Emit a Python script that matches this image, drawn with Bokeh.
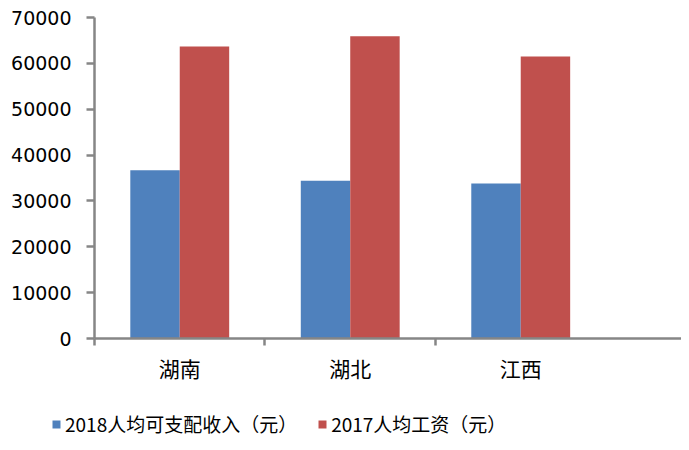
from bokeh.plotting import figure
from bokeh.models import ColumnDataSource, FixedTicker, Range1d, Legend, LegendItem
from bokeh.layouts import column
from bokeh.embed import file_html
from bokeh.resources import INLINE

categories = ["湖南", "湖北", "江西"]
income_2018 = [36700, 34400, 33800]
wage_2017 = [63700, 65900, 61500]
series_names = ["2018人均可支配收入（元）", "2017人均工资（元）"]
y_ticks = [0, 10000, 20000, 30000, 40000, 50000, 60000, 70000]

AXIS = "#868686"
BLUE = "#4F81BD"
RED = "#C0504D"
BW = 0.29

centers = [i + 0.5 for i in range(len(categories))]
src = ColumnDataSource(dict(
    xb=[c - BW / 2 for c in centers],
    xr=[c + BW / 2 for c in centers],
    inc=income_2018, wage=wage_2017))

p = figure(width=681, height=400, output_backend="svg", toolbar_location=None,
           x_range=Range1d(0, 3.443), y_range=Range1d(0, 70000),
           min_border_left=94, min_border_right=0, min_border_top=17, min_border_bottom=62)
p.outline_line_color = None
p.xgrid.visible = False
p.ygrid.visible = False

p.vbar(x="xb", top="inc", width=BW, source=src, fill_color=BLUE, line_color=None)
p.vbar(x="xr", top="wage", width=BW, source=src, fill_color=RED, line_color=None)

# y axis
ya = p.yaxis[0]
ya.ticker = FixedTicker(ticks=y_ticks, minor_ticks=[])
ya.axis_line_color = AXIS
ya.axis_line_width = 2.5
ya.major_tick_line_color = AXIS
ya.major_tick_line_width = 2.5
ya.major_tick_out = 8
ya.major_tick_in = 0
ya.minor_tick_line_color = None
ya.major_label_standoff = 15
ya.major_label_text_font = "DejaVu Sans"
ya.major_label_text_font_size = "19px"
ya.major_label_text_color = "#000000"

# x axis
xa = p.xaxis[0]
xa.ticker = FixedTicker(ticks=centers, minor_ticks=list(range(len(categories))))
xa.major_label_overrides = {c: name for c, name in zip(centers, categories)}
xa.axis_line_color = AXIS
xa.axis_line_width = 2.5
xa.major_tick_line_color = None
xa.major_tick_out = 0
xa.minor_tick_line_color = AXIS
xa.minor_tick_line_width = 2.5
xa.minor_tick_out = 7
xa.minor_tick_in = 0
xa.major_label_standoff = 7
xa.major_label_text_font = "Noto Sans CJK SC"
xa.major_label_text_font_size = "21px"
xa.major_label_text_color = "#000000"

# legend strip
p2 = figure(width=681, height=42, output_backend="svg", toolbar_location=None,
            x_range=Range1d(0, 1), y_range=Range1d(0, 1),
            min_border_left=0, min_border_right=0, min_border_top=0, min_border_bottom=0)
p2.frame_align = False
p2.axis.visible = False
p2.grid.visible = False
p2.outline_line_color = None
dummy = ColumnDataSource(dict(x=[5], top=[5]))
lb = p2.vbar(x="x", top="top", width=0.1, source=dummy, fill_color=BLUE, line_color=None)
lr = p2.vbar(x="x", top="top", width=0.1, source=dummy, fill_color=RED, line_color=None)

legend = Legend(items=[LegendItem(label=series_names[0], renderers=[lb]),
                       LegendItem(label=series_names[1], renderers=[lr])],
                orientation="horizontal", location=(51, 5),
                glyph_width=10, glyph_height=10, label_standoff=4, spacing=20,
                padding=0, margin=0, border_line_color=None, background_fill_alpha=0,
                label_text_font="Noto Sans CJK SC", label_text_font_size="19px",
                label_text_color="#000000")
p2.add_layout(legend, "center")

layout = column(p, p2, spacing=0)
open("out.html", "w").write(file_html(layout, INLINE))
